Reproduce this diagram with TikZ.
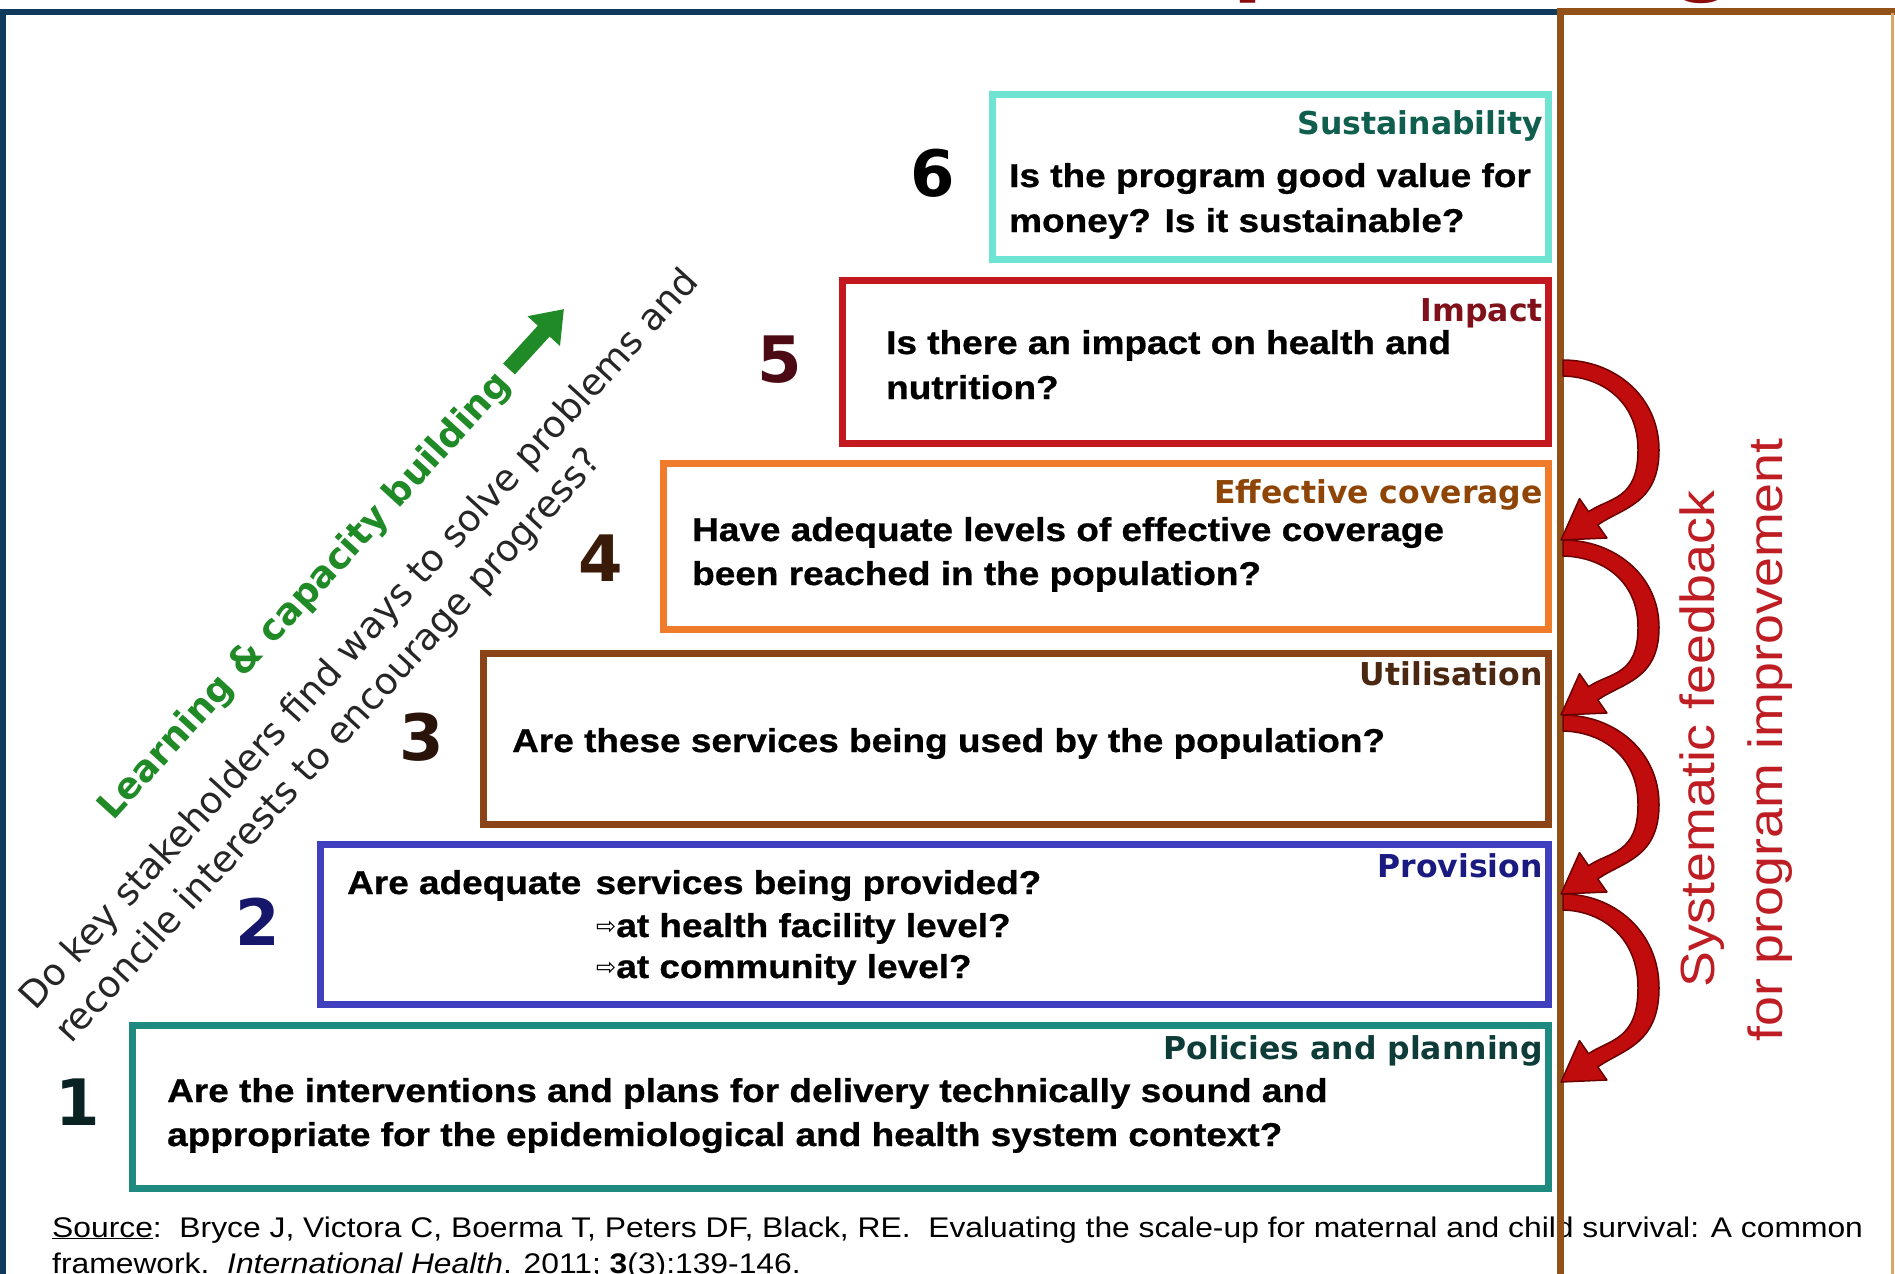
\documentclass[tikz,border=0pt]{standalone}
\usepackage{fontspec}
\setmainfont{Liberation Sans}
\newfontfamily\bodyfont[FakeStretch=1.12]{Liberation Sans}
\newfontface\heavyfont[FakeStretch=1.12,FakeBold=0.8]{Liberation Sans Bold}
\newfontfamily\headfont{DejaVu Sans}
\usetikzlibrary{arrows.meta,calc}

\definecolor{cNavyFrame}{HTML}{103A5C}
\definecolor{cBrownFrame}{HTML}{93511A}
\definecolor{cBrownLight}{HTML}{DDA46C}
\definecolor{cTitle}{HTML}{8B0A0A}
\definecolor{cTurq}{HTML}{70E4D2}
\definecolor{cRedBox}{HTML}{C41820}
\definecolor{cOrange}{HTML}{F07B2A}
\definecolor{cBrown}{HTML}{8A4418}
\definecolor{cBlue}{HTML}{4040BF}
\definecolor{cTeal}{HTML}{1F8A80}
\definecolor{hTurq}{HTML}{0F5E4E}
\definecolor{hRed}{HTML}{80101A}
\definecolor{hOrange}{HTML}{8E4506}
\definecolor{hBrown}{HTML}{4A2812}
\definecolor{hBlue}{HTML}{1A1A80}
\definecolor{hTeal}{HTML}{0E3C38}
\definecolor{nFive}{HTML}{4C0A14}
\definecolor{nFour}{HTML}{3A1A08}
\definecolor{nThree}{HTML}{2A140A}
\definecolor{nTwo}{HTML}{16166A}
\definecolor{nOne}{HTML}{0A2222}
\definecolor{cGreen}{HTML}{1F8A26}
\definecolor{cGrey}{HTML}{262626}
\definecolor{cFeedText}{HTML}{BE1E23}
\definecolor{cArcFill}{HTML}{C00C0C}
\definecolor{cArcEdge}{HTML}{6A0000}

\tikzset{
  stagebox/.style={draw, line width=7pt, fill=white, anchor=north west,
    inner sep=0pt, outer sep=0pt},
  body/.style={inner sep=0pt, anchor=base west,
    font=\heavyfont\fontsize{33}{40}\selectfont},
  head/.style={inner sep=0pt, anchor=base east,
    font=\headfont\bfseries\fontsize{31.5}{36}\selectfont},
  num/.style={inner sep=0pt, anchor=base,
    font=\headfont\bfseries\fontsize{64}{70}\selectfont},
  diag/.style={inner sep=0pt, anchor=base west, rotate=47.6, text=cGrey,
    font=\headfont\fontsize{37}{40}\selectfont},
  vtext/.style={inner sep=0pt, rotate=90, text=cFeedText,
    font=\bodyfont\fontsize{48}{50}\selectfont},
  src/.style={inner sep=0pt, anchor=base west,
    font=\bodyfont\fontsize{28.4}{32}\selectfont},
  titlebit/.style={inner sep=0pt, anchor=base west, text=cTitle,
    font=\bodyfont\bfseries\fontsize{100}{100}\selectfont},
  arcfill/.style={fill=cArcFill, draw=cArcEdge, line width=1.5pt, line join=round},
}

% one curved feedback arrow from y=#1 down to a tip at y=#2
\newcommand\feedarc[2]{%
  \filldraw[arcfill] (1563,#1)
    .. controls (1614,{#1}) and (1659,{#1+0.2*(#2-#1)}) .. (1659,{#1+0.5*(#2-#1)})
    .. controls (1659,{#1+0.8*(#2-#1)}) and (1622.4,{#2-32.2}) .. (1597.8,{#2-15.1})
    -- (1606.9,{#2-2}) -- (1561,#2) -- (1579.5,{#2-41.4}) -- (1588.6,{#2-28.3})
    .. controls (1609.1,{#2-42.6}) and (1638,{#1+0.78*(#2-#1)}) .. (1638,{#1+0.5*(#2-#1)})
    .. controls (1638,{#1+0.24*(#2-#1)}) and (1604,{#1+17}) .. (1563,{#1+16})
    -- cycle;}

\begin{document}
\begin{tikzpicture}[x=1pt,y=-1pt]
\useasboundingbox (0,0) rectangle (1895,1274);
\fill[white] (0,0) rectangle (1895,1274);

% descenders of the slide heading above the frame
\node[titlebit] (tp) at (1232,-17) {p};
\node[titlebit] (tg) at (1668,-17) {g};

% outer slide frame
\draw[cNavyFrame, line width=6pt] (1557,12) -- (3,12) -- (3,1274);

% the six stages
\node[stagebox, draw=cTurq,   minimum width=556,  minimum height=165] (box6) at (992.5,94.5) {};
\node[stagebox, draw=cRedBox, minimum width=706,  minimum height=163] (box5) at (842.5,280.5) {};
\node[stagebox, draw=cOrange, minimum width=885,  minimum height=166] (box4) at (663.5,463.5) {};
\node[stagebox, draw=cBrown,  minimum width=1065.5, minimum height=171] (box3) at (483,653.5) {};
\node[stagebox, draw=cBlue,   minimum width=1228, minimum height=160] (box2) at (320.5,844.5) {};
\node[stagebox, draw=cTeal,   minimum width=1416, minimum height=163] (box1) at (132.5,1025.5) {};

% stage headings
\node[head, text=hTurq]   (h6) at (1543,134) {Sustainability};
\node[head, text=hRed]    (h5) at (1543,321) {Impact};
\node[head, text=hOrange] (h4) at (1543,503) {Effective coverage};
\node[head, text=hBrown]  (h3) at (1543,685) {Utilisation};
\node[head, text=hBlue]   (h2) at (1543,877) {Provision};
\node[head, text=hTeal]   (h1) at (1543,1059) {Policies and planning};

% stage numbers
\node[num, text=black]  (n6) at (933,196) {6};
\node[num, text=nFive]  (n5) at (780,382) {5};
\node[num, text=nFour]  (n4) at (601,581) {4};
\node[num, text=nThree] (n3) at (422,760) {3};
\node[num, text=nTwo]   (n2) at (258,945) {2};
\node[num, text=nOne]   (n1) at (78,1125) {1};

% stage questions
\node[body] (q6a) at (1009,187) {Is the program good value for};
\node[body] (q6b) at (1009,232) {money? Is it sustainable?};
\node[body] (q5a) at (886,354) {Is there an impact on health and};
\node[body] (q5b) at (886,399) {nutrition?};
\node[body] (q4a) at (692,541) {Have adequate levels of effective coverage};
\node[body] (q4b) at (692,585) {been reached in the population?};
\node[body] (q3a) at (512,752) {Are these services being used by the population?};
\node[body] (q2a) at (347,894) {Are adequate\hspace{4pt} services being provided?};
\node[body] (q2b) at (596,937) {\raisebox{3pt}{\headfont\fontsize{24}{24}\selectfont ⇨}at health facility level?};
\node[body] (q2c) at (596,978) {\raisebox{3pt}{\headfont\fontsize{24}{24}\selectfont ⇨}at community level?};
\node[body] (q1a) at (167,1102) {Are the interventions and plans for delivery technically sound and};
\node[body] (q1b) at (167,1146) {appropriate for the epidemiological and health system context?};

% diagonal notes
\node[diag] (d1) at (35,1012) {Do key stakeholders find ways to solve problems and};
\node[diag] (d2) at (71,1045) {reconcile interests to encourage progress?};
\node[diag, text=cGreen, font=\headfont\bfseries\fontsize{36.5}{40}\selectfont] (learn) at (113,822) {Learning \& capacity building};
\draw[cGreen, line width=16pt, -{Triangle[length=30pt,width=42pt]}] (509,369) -- (564,309);

% reference
\node[src] (srcA) at (52,1237) {\underline{Source}:\ \ Bryce J, Victora C, Boerma T, Peters DF, Black, RE.\ \ Evaluating the scale-up for maternal and child survival: A common};
\node[src] (srcB) at (52,1273) {framework.\ \ \textit{International Health}. 2011; \textbf{3}(3):139-146.};

% feedback panel
\draw[cBrownFrame, line width=7pt] (1560.5,1274) -- (1560.5,11) -- (1895,11);
\draw[cBrownLight, line width=2.5pt] (1892.5,13) -- (1892.5,1274);

\feedarc{360}{540}
\feedarc{540}{715}
\feedarc{715}{894}
\feedarc{894}{1082}

\node[vtext] (fb1) at (1702,739) {Systematic feedback};
\node[vtext] (fb2) at (1770,740) {for program improvement};
\end{tikzpicture}
\end{document}
